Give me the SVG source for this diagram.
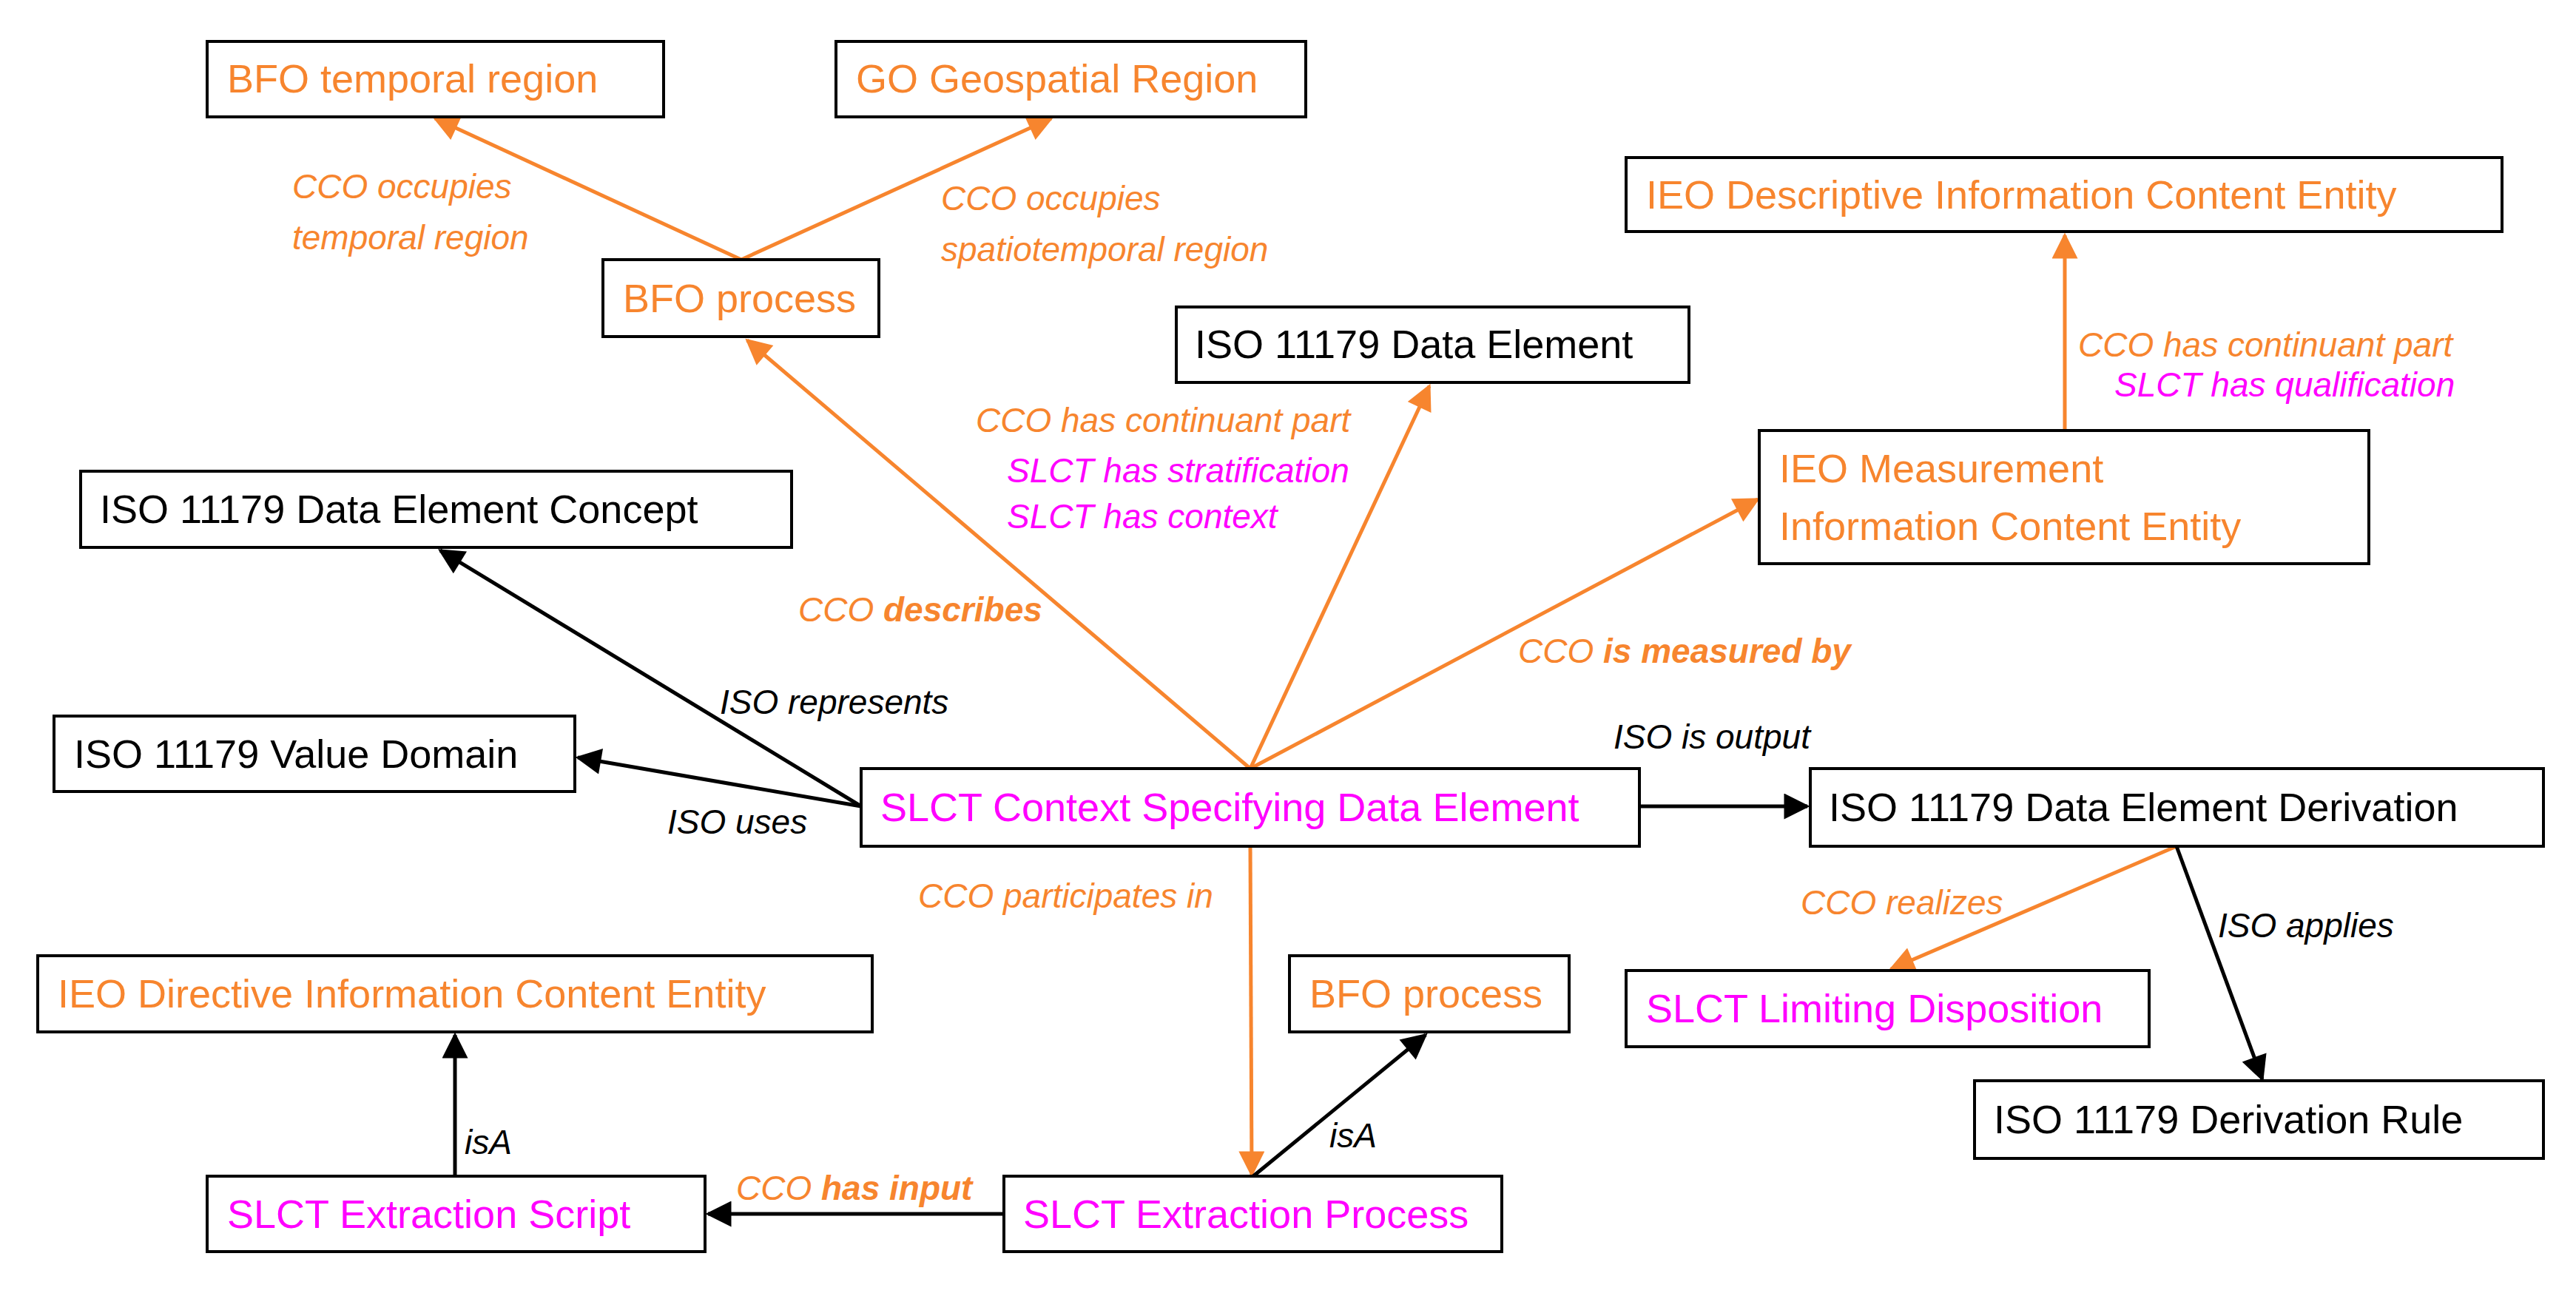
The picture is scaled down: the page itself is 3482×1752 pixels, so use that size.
<svg xmlns="http://www.w3.org/2000/svg" width="3482" height="1752" viewBox="0 0 3482 1752">
<style>
.b{fill:#fff;stroke:#000;stroke-width:4}
.t{font-family:"Liberation Sans",Arial,sans-serif;font-size:54px}
.l{font-family:"Liberation Sans",Arial,sans-serif;font-size:46px;font-style:italic}
.o{fill:#F7852E}.m{fill:#FF00FF}.k{fill:#000}
.eo{stroke:#F7852E;stroke-width:5;fill:none;marker-end:url(#ao)}
.ek{stroke:#000;stroke-width:5;fill:none;marker-end:url(#ak)}
</style>
<defs>
<marker id="ao" viewBox="0 0 10 10" refX="9" refY="5" markerWidth="8" markerHeight="7" markerUnits="strokeWidth" orient="auto"><path d="M0,0L10,5L0,10z" fill="#F7852E"/></marker>
<marker id="ak" viewBox="0 0 10 10" refX="9" refY="5" markerWidth="8" markerHeight="7" markerUnits="strokeWidth" orient="auto"><path d="M0,0L10,5L0,10z" fill="#000"/></marker>
</defs>
<rect width="3482" height="1752" fill="#fff"/>
<g id="connectors">
<line class="eo" x1="1002" y1="351" x2="588" y2="160"/>
<line class="eo" x1="1002" y1="351" x2="1421" y2="160"/>
<line class="eo" x1="1690" y1="1039" x2="1010" y2="460"/>
<line class="eo" x1="1690" y1="1039" x2="1932" y2="522"/>
<line class="eo" x1="1690" y1="1039" x2="2376" y2="675"/>
<line class="eo" x1="2791" y1="582" x2="2791" y2="318"/>
<line class="ek" x1="1164" y1="1090" x2="595" y2="744"/>
<line class="ek" x1="1164" y1="1090" x2="781" y2="1024"/>
<line class="ek" x1="2216" y1="1090" x2="2443" y2="1090"/>
<line class="eo" x1="2942" y1="1144" x2="2556" y2="1310"/>
<line class="ek" x1="2942" y1="1144" x2="3058" y2="1459"/>
<line class="eo" x1="1690" y1="1144" x2="1692" y2="1588"/>
<line class="ek" x1="1694" y1="1590" x2="1927" y2="1399"/>
<line class="ek" x1="1357" y1="1641" x2="957" y2="1641"/>
<line class="ek" x1="615" y1="1590" x2="615" y2="1399"/>
</g>
<g id="n1"><rect class="b" x="280" y="56" width="617" height="102"/><text class="t o" x="307" y="125">BFO temporal region</text></g>
<g id="n2"><rect class="b" x="1130" y="56" width="635" height="102"/><text class="t o" x="1157" y="125">GO Geospatial Region</text></g>
<g id="n3"><rect class="b" x="815" y="351" width="373" height="104"/><text class="t o" x="842" y="422">BFO process</text></g>
<g id="n4"><rect class="b" x="2198" y="213" width="1184" height="100"/><text class="t o" x="2225" y="282">IEO Descriptive Information Content Entity</text></g>
<g id="n5"><rect class="b" x="1590" y="415" width="693" height="102"/><text class="t k" x="1615" y="484">ISO 11179 Data Element</text></g>
<g id="n6"><rect class="b" x="2378" y="582" width="824" height="180"/><text class="t o" x="2405" y="652">IEO Measurement</text><text class="t o" x="2405" y="730">Information Content Entity</text></g>
<g id="n7"><rect class="b" x="109" y="637" width="961" height="103"/><text class="t k" x="135" y="707">ISO 11179 Data Element Concept</text></g>
<g id="n8"><rect class="b" x="73" y="968" width="704" height="102"/><text class="t k" x="100" y="1038">ISO 11179 Value Domain</text></g>
<g id="n9"><rect class="b" x="1164" y="1039" width="1052" height="105"/><text class="t m" x="1190" y="1110">SLCT Context Specifying Data Element</text></g>
<g id="n10"><rect class="b" x="2447" y="1039" width="991" height="105"/><text class="t k" x="2472" y="1110">ISO 11179 Data Element Derivation</text></g>
<g id="n11"><rect class="b" x="51" y="1292" width="1128" height="103"/><text class="t o" x="78" y="1362">IEO Directive Information Content Entity</text></g>
<g id="n12"><rect class="b" x="1743" y="1292" width="378" height="103"/><text class="t o" x="1770" y="1362">BFO process</text></g>
<g id="n13"><rect class="b" x="2198" y="1312" width="707" height="103"/><text class="t m" x="2225" y="1382">SLCT Limiting Disposition</text></g>
<g id="n14"><rect class="b" x="2669" y="1461" width="769" height="105"/><text class="t k" x="2695" y="1532">ISO 11179 Derivation Rule</text></g>
<g id="n15"><rect class="b" x="280" y="1590" width="673" height="102"/><text class="t m" x="307" y="1660">SLCT Extraction Script</text></g>
<g id="n16"><rect class="b" x="1357" y="1590" width="673" height="102"/><text class="t m" x="1383" y="1660">SLCT Extraction Process</text></g>
<g id="labels">
<text class="l o" x="395" y="268">CCO occupies</text>
<text class="l o" x="395" y="337">temporal region</text>
<text class="l o" x="1272" y="284">CCO occupies</text>
<text class="l o" x="1272" y="353">spatiotemporal region</text>
<text class="l o" x="1319" y="584">CCO has continuant part</text>
<text class="l m" x="1361" y="652">SLCT has stratification</text>
<text class="l m" x="1361" y="714">SLCT has context</text>
<text class="l o" x="2809" y="482">CCO has continuant part</text>
<text class="l m" x="2858" y="536">SLCT has qualification</text>
<text class="l o" x="1079" y="840">CCO <tspan font-weight="bold">describes</tspan></text>
<text class="l o" x="2052" y="896">CCO <tspan font-weight="bold">is measured by</tspan></text>
<text class="l k" x="973" y="965">ISO represents</text>
<text class="l k" x="902" y="1127">ISO uses</text>
<text class="l k" x="2181" y="1012">ISO is output</text>
<text class="l o" x="1241" y="1227">CCO participates in</text>
<text class="l o" x="2434" y="1236">CCO realizes</text>
<text class="l k" x="2998" y="1267">ISO applies</text>
<text class="l k" x="628" y="1560">isA</text>
<text class="l k" x="1797" y="1551">isA</text>
<text class="l o" x="995" y="1622">CCO <tspan font-weight="bold">has input</tspan></text>
</g>
</svg>
